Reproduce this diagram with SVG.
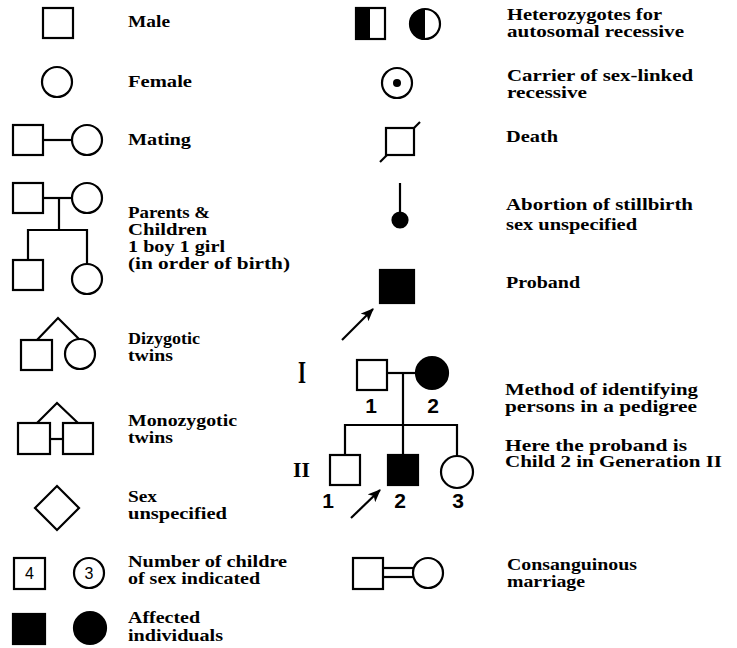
<svg xmlns="http://www.w3.org/2000/svg" width="737" height="648" viewBox="0 0 737 648">
<style>
.s{fill:#fff;stroke:#000;stroke-width:2.2}
.f{fill:#000;stroke:#000;stroke-width:2.2}
.ln{fill:none;stroke:#000;stroke-width:2.2}
.t{font-family:"Liberation Serif","Times New Roman",serif;font-weight:bold;font-size:16px;fill:#000}
.n{font-family:"Liberation Sans",Arial,sans-serif;font-weight:bold;font-size:21px;fill:#000;text-anchor:middle}
.k{font-family:"Liberation Sans",Arial,sans-serif;font-size:16px;fill:#000;text-anchor:middle}
.g{font-family:"Liberation Serif","Times New Roman",serif;font-weight:bold;fill:#000}
</style>
<defs>
<marker id="ah" viewBox="0 0 12 10" refX="11" refY="5" markerWidth="13" markerHeight="11" markerUnits="userSpaceOnUse" orient="auto">
<path d="M0,0 L12,5 L0,10 L3,5 Z" fill="#000"/>
</marker>
</defs>
<rect width="737" height="648" fill="#fff"/>

<g id="connectors">
<line class="ln" x1="43" y1="140" x2="72" y2="140"/>
<line class="ln" x1="43" y1="198" x2="72" y2="198"/>
<polyline class="ln" points="59,198 59,230"/>
<polyline class="ln" points="28,260 28,230 87,230 87,264"/>
<polyline class="ln" points="37,340 58,318 79,339"/>
<polyline class="ln" points="37,423 57,403 78,423"/>
<line class="ln" x1="50" y1="439" x2="63" y2="439"/>
<line class="ln" x1="383" y1="568" x2="413" y2="568"/>
<line class="ln" x1="383" y1="577" x2="413" y2="577"/>
<line class="ln" x1="387" y1="373" x2="417" y2="373"/>
<line class="ln" x1="403" y1="373" x2="403" y2="425"/>
<polyline class="ln" points="345,455 345,425 457,425 457,456"/>
<line class="ln" x1="403" y1="425" x2="403" y2="455"/>
<line class="ln" x1="400" y1="183" x2="400" y2="214"/>
<line class="ln" x1="342" y1="340" x2="373" y2="309" marker-end="url(#ah)"/>
<line class="ln" x1="351" y1="518" x2="380" y2="490" marker-end="url(#ah)"/>
<line class="ln" x1="380" y1="162" x2="420" y2="122"/>
</g>

<g id="male"><rect class="s" x="43" y="8" width="30" height="30"/><text class="t" x="128" y="27" textLength="42" lengthAdjust="spacingAndGlyphs">Male</text></g>
<g id="female"><circle class="s" cx="57" cy="82" r="15"/><text class="t" x="128" y="87" textLength="64" lengthAdjust="spacingAndGlyphs">Female</text></g>
<g id="mating"><rect class="s" x="13" y="125" width="30" height="30"/><circle class="s" cx="87" cy="140" r="15"/><text class="t" x="128" y="145" textLength="63" lengthAdjust="spacingAndGlyphs">Mating</text></g>
<g id="parents">
<rect class="s" x="13" y="183" width="30" height="30"/><circle class="s" cx="87" cy="198" r="15"/>
<rect class="s" x="13" y="260" width="30" height="30"/><circle class="s" cx="87" cy="279" r="15"/>
<text class="t" x="128" y="218" textLength="82" lengthAdjust="spacingAndGlyphs">Parents &amp;</text>
<text class="t" x="128" y="235" textLength="79" lengthAdjust="spacingAndGlyphs">Children</text>
<text class="t" x="128" y="252" textLength="97" lengthAdjust="spacingAndGlyphs">1 boy 1 girl</text>
<text class="t" x="128" y="269" textLength="162" lengthAdjust="spacingAndGlyphs">(in order of birth)</text>
</g>
<g id="dizygotic"><rect class="s" x="21" y="340" width="31" height="30"/><circle class="s" cx="80" cy="354" r="15"/>
<text class="t" x="128" y="344" textLength="72" lengthAdjust="spacingAndGlyphs">Dizygotic</text>
<text class="t" x="128" y="361" textLength="45" lengthAdjust="spacingAndGlyphs">twins</text></g>
<g id="monozygotic"><rect class="s" x="18" y="423" width="32" height="31"/><rect class="s" x="63" y="423" width="30" height="31"/>
<text class="t" x="128" y="426" textLength="109" lengthAdjust="spacingAndGlyphs">Monozygotic</text>
<text class="t" x="128" y="443" textLength="45" lengthAdjust="spacingAndGlyphs">twins</text></g>
<g id="sexunspec"><polygon class="s" points="57,486 79,508 57,530 35,508"/>
<text class="t" x="128" y="502" textLength="29" lengthAdjust="spacingAndGlyphs">Sex</text>
<text class="t" x="128" y="519" textLength="99" lengthAdjust="spacingAndGlyphs">unspecified</text></g>
<g id="number"><rect class="s" x="14" y="558" width="31" height="31"/><text class="k" x="29.5" y="579">4</text>
<circle class="s" cx="89" cy="573" r="15"/><text class="k" x="89" y="579">3</text>
<text class="t" x="128" y="567" textLength="159" lengthAdjust="spacingAndGlyphs">Number of childre</text>
<text class="t" x="128" y="584" textLength="132" lengthAdjust="spacingAndGlyphs">of sex indicated</text></g>
<g id="affected"><rect class="f" x="13" y="614" width="32" height="30"/><circle class="f" cx="90" cy="628" r="16"/>
<text class="t" x="128" y="623" textLength="72" lengthAdjust="spacingAndGlyphs">Affected</text>
<text class="t" x="128" y="641" textLength="95" lengthAdjust="spacingAndGlyphs">individuals</text></g>

<g id="heterozygotes"><rect class="s" x="356" y="8" width="29" height="31"/><rect x="356" y="8" width="14" height="31" fill="#000"/>
<circle class="s" cx="425" cy="24" r="15"/><path d="M425,9 A15,15 0 0 0 425,39 Z" fill="#000"/>
<text class="t" x="507" y="20" textLength="155" lengthAdjust="spacingAndGlyphs">Heterozygotes for</text>
<text class="t" x="507" y="37" textLength="177" lengthAdjust="spacingAndGlyphs">autosomal recessive</text></g>
<g id="carrier"><circle class="s" cx="397" cy="83" r="15"/><circle cx="397" cy="83" r="4" fill="#000"/>
<text class="t" x="507" y="81" textLength="186" lengthAdjust="spacingAndGlyphs">Carrier of sex-linked</text>
<text class="t" x="507" y="98" textLength="80" lengthAdjust="spacingAndGlyphs">recessive</text></g>
<g id="death"><rect class="s" x="386" y="128" width="28" height="27"/>
<text class="t" x="506" y="142" textLength="52" lengthAdjust="spacingAndGlyphs">Death</text></g>
<g id="abortion"><circle class="f" cx="400" cy="220" r="7.5"/>
<text class="t" x="506" y="210" textLength="187" lengthAdjust="spacingAndGlyphs">Abortion of stillbirth</text>
<text class="t" x="506" y="230" textLength="131" lengthAdjust="spacingAndGlyphs">sex unspecified</text></g>
<g id="proband"><rect class="f" x="380" y="270" width="34" height="33"/>
<text class="t" x="506" y="288" textLength="74" lengthAdjust="spacingAndGlyphs">Proband</text></g>

<g id="pedigree">
<text class="g" x="298" y="383" font-size="31" textLength="8" lengthAdjust="spacingAndGlyphs">I</text>
<text class="g" x="293" y="477" font-size="21" textLength="17" lengthAdjust="spacingAndGlyphs">II</text>
<rect class="s" x="357" y="360" width="30" height="30"/>
<circle class="f" cx="432" cy="373" r="16"/>
<text class="n" x="371" y="413">1</text><text class="n" x="433" y="413">2</text>
<rect class="s" x="330" y="455" width="30" height="30"/>
<rect class="f" x="388" y="455" width="30" height="30"/>
<circle class="s" cx="457" cy="472" r="16"/>
<text class="n" x="328" y="508">1</text><text class="n" x="400" y="508">2</text><text class="n" x="458" y="508">3</text>
</g>
<g id="method">
<text class="t" x="505" y="395" textLength="193" lengthAdjust="spacingAndGlyphs">Method of identifying</text>
<text class="t" x="505" y="412" textLength="192" lengthAdjust="spacingAndGlyphs">persons in a pedigree</text>
<text class="t" x="505" y="451" textLength="182" lengthAdjust="spacingAndGlyphs">Here the proband is</text>
<text class="t" x="505" y="467" textLength="217" lengthAdjust="spacingAndGlyphs">Child 2 in Generation II</text>
</g>
<g id="consanguinous"><rect class="s" x="353" y="558" width="30" height="31"/><circle class="s" cx="428" cy="573" r="15"/>
<text class="t" x="507" y="570" textLength="130" lengthAdjust="spacingAndGlyphs">Consanguinous</text>
<text class="t" x="507" y="587" textLength="78" lengthAdjust="spacingAndGlyphs">marriage</text></g>
</svg>
